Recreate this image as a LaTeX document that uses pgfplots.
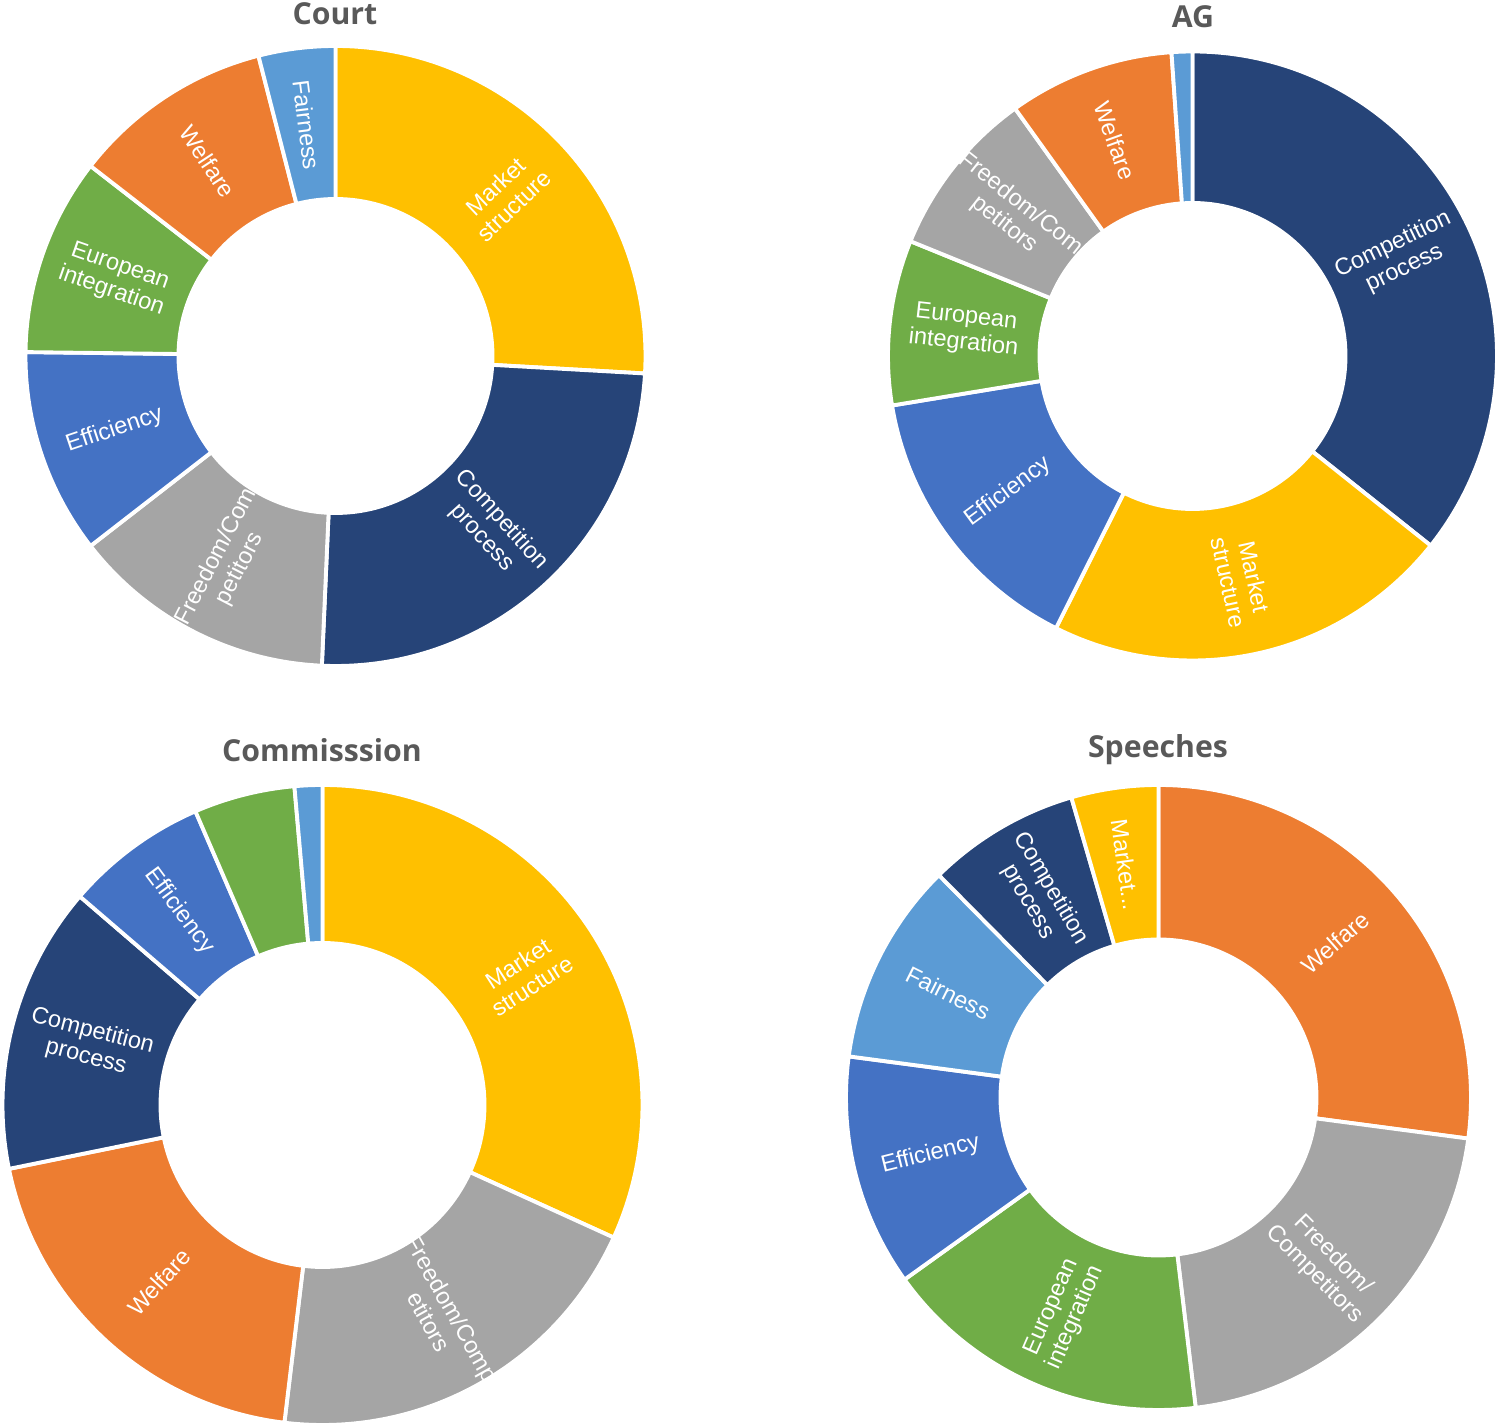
\documentclass[border=0pt]{standalone}
\usepackage{fontspec}
\setmainfont{Liberation Sans}
\newfontfamily\titlefamily{Open Sans}
\usepackage{pgfplots}
\usepackage{pgfplotstable}
\pgfplotsset{compat=1.18}

\definecolor{cOra}{HTML}{ED7D31}
\definecolor{cGra}{HTML}{A5A5A5}
\definecolor{cYel}{HTML}{FFC000}
\definecolor{cBlu}{HTML}{4472C4}
\definecolor{cGre}{HTML}{70AD47}
\definecolor{cNav}{HTML}{264478}
\definecolor{cLbl}{HTML}{5B9BD5}
\definecolor{titlegray}{HTML}{595959}

\newcommand{\labfont}{\fontsize{6.7}{7.5}\selectfont}
\newcommand{\titfont}{\titlefamily\bfseries\fontsize{8.6}{10}\selectfont}

% values in percent, clockwise from 12 o'clock
\pgfplotstableread[col sep=comma]{
value,color,label
25.9,cYel,{Market\\structure}
24.8,cNav,{Competition\\process}
13.8,cGra,{Freedom/Com\\petitors}
10.7,cBlu,{Efficiency}
10.3,cGre,{European\\integration}
10.5,cOra,{Welfare}
4.0,cLbl,{Fairness}
}\courtdata

\pgfplotstableread[col sep=comma]{
value,color,label
35.7,cNav,{Competition\\process}
21.7,cYel,{Market\\structure}
15.0,cBlu,{Efficiency}
8.75,cGre,{European\\integration}
8.95,cGra,{Freedom/Com\\petitors}
8.8,cOra,{Welfare}
1.1,cLbl,{}
}\agdata

\pgfplotstableread[col sep=comma]{
value,color,label
31.8,cYel,{Market\\structure}
20.1,cGra,{Freedom/Comp\\etitors}
19.9,cOra,{Welfare}
14.5,cNav,{Competition\\process}
7.2,cBlu,{Efficiency}
5.1,cGre,{}
1.4,cLbl,{}
}\commdata

\pgfplotstableread[col sep=comma]{
value,color,label
27.1,cOra,{Welfare}
21.0,cGra,{Freedom/\\Competitors}
17.0,cGre,{European\\integration}
12.0,cBlu,{Efficiency}
10.5,cLbl,{Fairness}
7.9,cNav,{Competition\\process}
4.5,cYel,{Market...}
}\speechdata

% #1 table, #2 cx, #3 cy, #4 outer R, #5 inner r, #6 label radius (all in px units)
\newcommand{\donut}[6]{%
  \pgfplotstablegetrowsof{#1}%
  \pgfmathtruncatemacro\Nlast{\pgfplotsretval-1}%
  \def\cum{0}%
  \pgfmathsetmacro\Rcm{#4*0.01}%
  \pgfmathsetmacro\rcm{#5*0.01}%
  \pgfmathsetmacro\mcm{#6*0.01}%
  \pgfplotsforeachungrouped \i in {0,...,\Nlast}{%
    \pgfplotstablegetelem{\i}{value}\of{#1}\let\val\pgfplotsretval
    \pgfplotstablegetelem{\i}{color}\of{#1}\let\col\pgfplotsretval
    \pgfplotstablegetelem{\i}{label}\of{#1}\let\lab\pgfplotsretval
    \pgfmathsetmacro\aS{90-3.6*\cum}%
    \pgfmathsetmacro\cum{\cum+\val}%
    \pgfmathsetmacro\aE{90-3.6*\cum}%
    \pgfmathsetmacro\aM{(\aS+\aE)/2}%
    \pgfmathsetmacro\rot{cos(\aM)>=0 ? \aM : \aM+180}%
    \edef\cmd{\noexpand\fill[fill=\col, draw=white, line width=1.1pt, line join=round]
      ([shift={(\aS:\Rcm cm)}]axis cs:#2,#3) arc[start angle=\aS, end angle=\aE, radius=\Rcm cm]
      -- ([shift={(\aE:\rcm cm)}]axis cs:#2,#3) arc[start angle=\aE, end angle=\aS, radius=\rcm cm] -- cycle;}%
    \cmd
    \edef\cmd{\noexpand\node[text=white, rotate=\rot, align=center, font=\noexpand\labfont, inner sep=0pt]
      at ([shift={(\aM:\mcm cm)}]axis cs:#2,#3) {\unexpanded\expandafter{\lab}};}%
    \cmd
  }%
}

\begin{document}
\begin{tikzpicture}
\begin{axis}[
  x=0.01cm, y=0.01cm,
  xmin=0, xmax=1500, ymin=0, ymax=1428,
  hide axis, clip=false, scale only axis,
]
\coordinate (BL) at (axis cs:0,0);
\coordinate (TR) at (axis cs:1500,1428);
\donut{\courtdata}{335.5}{1072}{310}{157}{233}
\donut{\agdata}{1192.5}{1072}{304.5}{153}{229}
\donut{\commdata}{322.5}{323}{320}{162}{241}
\donut{\speechdata}{1158.5}{330.5}{312.5}{158}{235}
\node[font=\titfont, text=titlegray, inner sep=0pt] at (axis cs:335,1414) {Court};
\node[font=\titfont, text=titlegray, inner sep=0pt] at (axis cs:1193,1411) {AG};
\node[font=\titfont, text=titlegray, inner sep=0pt] at (axis cs:322,678) {Commisssion};
\node[font=\titfont, text=titlegray, inner sep=0pt] at (axis cs:1158,678) {Speeches};
\end{axis}
\pgfresetboundingbox
\path[use as bounding box] (BL) rectangle (TR);
\end{tikzpicture}
\end{document}
